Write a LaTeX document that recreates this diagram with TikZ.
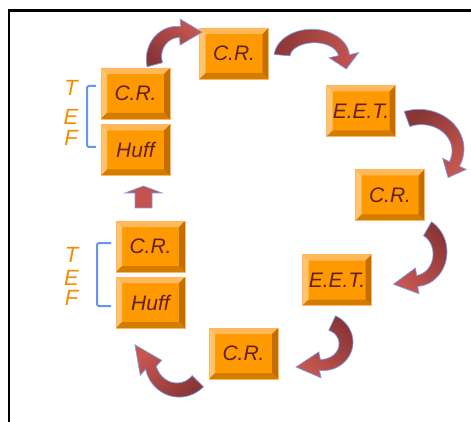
\documentclass[tikz,border=0pt]{standalone}
\usepackage{fontspec}
\setmainfont{Liberation Sans}
\usetikzlibrary{calc}
\definecolor{boxface}{RGB}{255,153,0}
\definecolor{bevtop}{RGB}{255,185,90}
\definecolor{bevleft}{RGB}{255,196,112}
\definecolor{bevright}{RGB}{194,110,0}
\definecolor{bevbot}{RGB}{212,124,0}
\definecolor{boxedge}{RGB}{255,182,100}
\definecolor{txtred}{RGB}{100,32,32}
\definecolor{arrdark}{RGB}{138,54,54}
\definecolor{arrlight}{RGB}{200,86,80}
\definecolor{arredge}{RGB}{120,160,235}
\definecolor{brk}{RGB}{100,150,240}
\definecolor{teforange}{RGB}{245,140,0}
\def\bv{6}
\def\wa{8}
\def\wb{5.5}
\def\ah{13}
\newcommand\carrow[9]{%
 \pgfmathsetmacro\cAex{#1+#3*cos(#6)}%
 \pgfmathsetmacro\cAey{#2+#4*sin(#6)}%
 \pgfmathsetmacro\cAsg{2*((cos(#7+90)*cos(#6)+sin(#7+90)*sin(#6))>0)-1}%
 \pgfmathsetmacro\cAwox{\cAex+\cAsg*\ah*cos(#7+90)}%
 \pgfmathsetmacro\cAwoy{\cAey+\cAsg*\ah*sin(#7+90)}%
 \pgfmathsetmacro\cAwix{\cAex-\cAsg*\ah*cos(#7+90)}%
 \pgfmathsetmacro\cAwiy{\cAey-\cAsg*\ah*sin(#7+90)}%
 \pgfmathsetmacro\cAtx{\cAex+#8*cos(#7)}%
 \pgfmathsetmacro\cAty{\cAey+#8*sin(#7)}%
 \path[arr, shading angle=#9]
   plot[domain=#5:#6, samples=30, variable=\myt]
     ({#1+(#3+\wa+(\wb-\wa)*(\myt-#5)/(#6-#5))*cos(\myt)},
      {#2+(#4+\wa+(\wb-\wa)*(\myt-#5)/(#6-#5))*sin(\myt)})
   -- (\cAwox,\cAwoy) -- (\cAtx,\cAty) -- (\cAwix,\cAwiy)
   -- plot[domain=#6:#5, samples=30, variable=\myt]
     ({#1+(#3-\wa-(\wb-\wa)*(\myt-#5)/(#6-#5))*cos(\myt)},
      {#2+(#4-\wa-(\wb-\wa)*(\myt-#5)/(#6-#5))*sin(\myt)})
   -- cycle;
}
\tikzset{
 bx/.style={minimum width=69, minimum height=51, inner sep=0pt,
   fill=boxface, draw=boxedge, line width=0.8pt,
   font=\fontsize{21}{24}\selectfont\itshape, text=txtred,
   path picture={
     \fill[bevtop] (path picture bounding box.north west) -- (path picture bounding box.north east)
        -- ($(path picture bounding box.north east)+(-\bv,\bv)$) -- ($(path picture bounding box.north west)+(\bv,\bv)$) -- cycle;
     \fill[bevleft] (path picture bounding box.north west) -- (path picture bounding box.south west)
        -- ($(path picture bounding box.south west)+(\bv,-\bv)$) -- ($(path picture bounding box.north west)+(\bv,\bv)$) -- cycle;
     \fill[bevright] (path picture bounding box.north east) -- (path picture bounding box.south east)
        -- ($(path picture bounding box.south east)+(-\bv,-\bv)$) -- ($(path picture bounding box.north east)+(-\bv,\bv)$) -- cycle;
     \fill[bevbot] (path picture bounding box.south west) -- (path picture bounding box.south east)
        -- ($(path picture bounding box.south east)+(-\bv,-\bv)$) -- ($(path picture bounding box.south west)+(\bv,-\bv)$) -- cycle;
   }},
 tef/.style={text=teforange, inner sep=0pt, align=center, anchor=north},
 brack/.style={draw=brk, line width=2pt},
 arr/.style={draw=arredge, line width=0.7pt, top color=arrdark, bottom color=arrlight},
 sarr/.style={fill=arrlight!92!arrdark, draw=arredge, line width=0.7pt},
 frame/.style={line width=2.5pt, black}
}
\begin{document}
\begin{tikzpicture}[x=1pt,y=-1pt]
\useasboundingbox (0,0) rectangle (471,422);
\fill[white] (0,0) rectangle (471,422);
% frame
\coordinate (f1) at (471,10.75);
\coordinate (f2) at (8.75,10.75);
\coordinate (f3) at (8.75,422);
\draw[frame] (f1) -- (f2) -- (f3);

% boxes
\node[bx] (crTop) at (234,53.5) {C.R.};
\node[bx] (crL1) at (135.5,93.5) {C.R.};
\node[bx] (huffL1) at (135.5,150) {Huff};
\node[bx] (eet1) at (361,111) {E.E.T.};
\node[bx] (crR) at (390,195) {C.R.};
\node[bx] (eet2) at (337,280) {E.E.T.};
\node[bx] (crB) at (243.5,353.5) {C.R.};
\node[bx] (crL2) at (150.5,246.5) {C.R.};
\node[bx] (huffL2) at (150.5,302.5) {Huff};

% TEF labels
\node[tef, font=\fontsize{22}{20.5}\selectfont\itshape] (tef1) at (71,80) {T\\[9pt]E\\F};
\node[tef, font=\fontsize{22}{20}\selectfont\itshape] (tef2) at (71.5,247) {T\\[3pt]E\\F};

% brackets
\coordinate (b1a) at (96,86);
\coordinate (b1b) at (87,86);
\coordinate (b1c) at (87,147);
\coordinate (b1d) at (96,147);
\draw[brack, rounded corners=1.5pt] (b1a) -- (b1b) -- (b1c) -- (b1d);
\coordinate (b2a) at (111,243);
\coordinate (b2b) at (97,243);
\coordinate (b2c) at (97,306);
\coordinate (b2d) at (111,306);
\draw[brack, rounded corners=1.5pt] (b2a) -- (b2b) -- (b2c) -- (b2d);

% straight arrow from crL2 up to huffL1
\coordinate (s1) at (135,208);
\coordinate (s2) at (135,193);
\coordinate (s3) at (125,193);
\coordinate (s4) at (143.5,186);
\coordinate (s5) at (162,193);
\coordinate (s6) at (152,193);
\coordinate (s7) at (152,208);
\draw[sarr] (s1) -- (s2) -- (s3) -- (s4) -- (s5) -- (s6) -- (s7) -- cycle;

% curved arrows
\carrow{178}{58}{24}{26}{165}{275}{0}{22}{135}
\def\ah{15}
\carrow{313}{57}{31}{21}{185}{355}{80}{14}{90}
\def\ah{13}
\carrow{420}{150}{38}{33}{250}{385}{115}{15}{45}
\carrow{415}{253}{25}{28}{300}{445}{172}{24}{-45}
\carrow{322}{343}{24}{22}{295}{455}{175}{24}{-45}
\carrow{178}{360}{28}{30}{45}{165}{235}{28}{-135}
\end{tikzpicture}
\end{document}
